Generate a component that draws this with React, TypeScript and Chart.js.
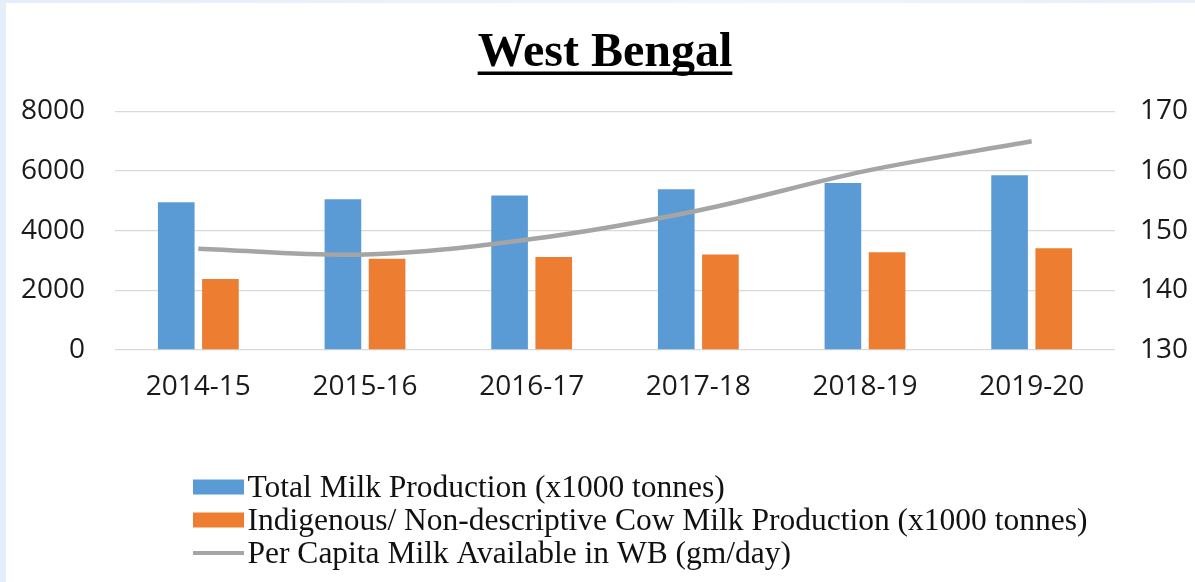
import React, { useEffect, useRef } from "react";
import { Chart, registerables } from "chart.js";

Chart.register(...registerables);

const chartTitle = "West Bengal";
const categories = ["2014-15", "2015-16", "2016-17", "2017-18", "2018-19", "2019-20"];
const totalMilk = [4960, 5060, 5180, 5390, 5600, 5860];
const indigenousMilk = [2380, 3060, 3120, 3200, 3280, 3410];
const perCapita = [147, 146, 148.6, 153.4, 160, 165];
const seriesLabels = [
  "Total Milk Production (x1000 tonnes)",
  "Indigenous/ Non-descriptive Cow Milk Production (x1000 tonnes)",
  "Per Capita Milk Available in WB (gm/day)",
];
const leftTicks = { min: 0, max: 8000, step: 2000 };
const rightTicks = { min: 130, max: 170, step: 10 };

const BLUE = "#5B9BD5";
const ORANGE = "#ED7D31";
const GRAY = "#A5A5A5";

const titlePlugin = {
  id: "underlinedTitle",
  afterDraw(chart: any) {
    const ctx = chart.ctx;
    ctx.save();
    ctx.font = "bold 48px 'Liberation Serif', 'Times New Roman', serif";
    ctx.fillStyle = "#000";
    ctx.textAlign = "center";
    ctx.textBaseline = "alphabetic";
    const cx = 599;
    const baseline = 63;
    ctx.fillText(chartTitle, cx, baseline);
    const w = ctx.measureText(chartTitle).width;
    ctx.fillRect(cx - w / 2, 68.5, w, 3.5);
    ctx.restore();
  },
};

const legendPlugin = {
  id: "stackedLegend",
  afterDraw(chart: any) {
    const ctx = chart.ctx;
    ctx.save();
    ctx.font = "31.5px 'Liberation Serif', 'Times New Roman', serif";
    ctx.textAlign = "left";
    ctx.textBaseline = "alphabetic";
    const x0 = 187;
    const swW = 51;
    const baselines = [494, 527, 560];
    chart.data.datasets.forEach((ds: any, i: number) => {
      const b = baselines[i];
      const cy = b - 10;
      if (ds.type === "line") {
        ctx.strokeStyle = ds.borderColor;
        ctx.lineWidth = 4;
        ctx.beginPath();
        ctx.moveTo(x0, cy);
        ctx.lineTo(x0 + swW, cy);
        ctx.stroke();
      } else {
        ctx.fillStyle = ds.backgroundColor;
        ctx.fillRect(x0, cy - 7.5, swW, 15);
      }
      ctx.fillStyle = "#111";
      ctx.fillText(ds.label, x0 + swW + 3.5, b);
    });
    ctx.restore();
  },
};

export default function App() {
  const canvasRef = useRef<HTMLCanvasElement | null>(null);

  useEffect(() => {
    if (!canvasRef.current) return;
    const tickFont = { family: "'Open Sans', sans-serif", size: 28 };
    const plain = (v: any) => String(v);
    const chart = new Chart(canvasRef.current, {
      type: "bar",
      data: {
        labels: categories,
        datasets: [
          {
            type: "bar",
            label: seriesLabels[0],
            data: totalMilk,
            backgroundColor: BLUE,
            yAxisID: "y",
            order: 1,
            categoryPercentage: 0.53,
            barPercentage: 0.83,
          },
          {
            type: "bar",
            label: seriesLabels[1],
            data: indigenousMilk,
            backgroundColor: ORANGE,
            yAxisID: "y",
            order: 1,
            categoryPercentage: 0.53,
            barPercentage: 0.83,
          },
          {
            type: "line",
            label: seriesLabels[2],
            data: perCapita,
            borderColor: GRAY,
            backgroundColor: GRAY,
            borderWidth: 4.5,
            pointRadius: 0,
            tension: 0.35,
            yAxisID: "y1",
            order: 0,
          },
        ] as any,
      },
      options: {
        animation: false,
        responsive: true,
        maintainAspectRatio: false,
        layout: { padding: { top: 108.5, bottom: 172, left: 0, right: 0 } },
        plugins: {
          legend: { display: false },
          title: { display: false },
          tooltip: { enabled: false },
        },
        scales: {
          x: {
            grid: { display: false, drawTicks: false },
            border: { display: false },
            ticks: { font: tickFont, color: "#1a1a1a", padding: 20 },
            afterFit: (s: any) => {
              s.height = 60;
            },
          },
          y: {
            position: "left",
            min: leftTicks.min,
            max: leftTicks.max,
            ticks: { stepSize: leftTicks.step, font: tickFont, color: "#1a1a1a", padding: 30, callback: plain },
            grid: { color: "#D9D9D9", lineWidth: 1.3, drawTicks: false },
            border: { display: false },
            afterFit: (s: any) => {
              s.width = 109;
            },
          },
          y1: {
            position: "right",
            min: rightTicks.min,
            max: rightTicks.max,
            ticks: { stepSize: rightTicks.step, font: tickFont, color: "#1a1a1a", padding: 25, callback: plain },
            grid: { display: false, drawTicks: false },
            border: { display: false },
            afterFit: (s: any) => {
              s.width = 80;
            },
          },
        },
      } as any,
      plugins: [titlePlugin, legendPlugin],
    });
    return () => chart.destroy();
  }, []);

  return (
    <div
      style={{
        position: "fixed",
        left: 0,
        top: 0,
        width: 1195,
        height: 582,
        background: "linear-gradient(90deg, #e3eef9, #eef5fc 60%, #e6f0fa)",
      }}
    >
      <div
        style={{
          position: "absolute",
          left: 6,
          top: 3,
          width: 1189,
          height: 579,
          background: "#ffffff",
        }}
      >
        <canvas ref={canvasRef} style={{ display: "block" }} />
      </div>
    </div>
  );
}
